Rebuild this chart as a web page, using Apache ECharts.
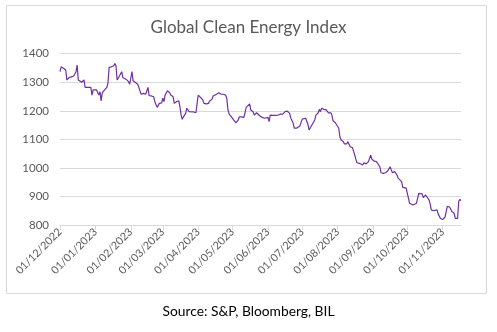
<!DOCTYPE html>
<html><head><meta charset="utf-8">
<script src="https://cdn.jsdelivr.net/npm/echarts@6/dist/echarts.min.js"></script>
<style>html,body{margin:0;padding:0;background:#fff}#c{width:497px;height:332px}</style>
</head><body><div id="c"></div>
<script>
const title = 'Global Clean Energy Index';
const sourceText = 'Source: S&P, Bloomberg, BIL';
const startDate = '2022-12-01';
const endDate = '2023-11-17';
const yTicks = [800, 900, 1000, 1100, 1200, 1300, 1400];

const dates = [
'2022-12-01','2022-12-02','2022-12-04','2022-12-06','2022-12-07','2022-12-09','2022-12-11','2022-12-13','2022-12-15','2022-12-16','2022-12-17','2022-12-20','2022-12-21','2022-12-22','2022-12-23','2022-12-26','2022-12-28','2022-12-29','2022-12-30',
'2023-01-02','2023-01-03','2023-01-04','2023-01-05','2023-01-06','2023-01-07','2023-01-09','2023-01-11','2023-01-12','2023-01-13','2023-01-15','2023-01-17','2023-01-18','2023-01-19','2023-01-20','2023-01-22','2023-01-24','2023-01-25','2023-01-28','2023-01-30','2023-01-31',
'2023-02-02','2023-02-03','2023-02-04','2023-02-07','2023-02-08','2023-02-09','2023-02-10','2023-02-12','2023-02-14','2023-02-15','2023-02-16','2023-02-17','2023-02-18','2023-02-19','2023-02-21','2023-02-22','2023-02-24','2023-02-26','2023-02-28',
'2023-03-01','2023-03-02','2023-03-03','2023-03-05','2023-03-07','2023-03-08','2023-03-10','2023-03-11','2023-03-13','2023-03-15','2023-03-16','2023-03-17','2023-03-18','2023-03-19','2023-03-21','2023-03-22','2023-03-24','2023-03-25','2023-03-28','2023-03-30','2023-03-31',
'2023-04-01','2023-04-03','2023-04-05','2023-04-06','2023-04-08','2023-04-10','2023-04-11','2023-04-13','2023-04-14','2023-04-15','2023-04-17','2023-04-18','2023-04-19','2023-04-20','2023-04-21','2023-04-23','2023-04-25','2023-04-26','2023-04-27','2023-04-28','2023-04-29','2023-04-30',
'2023-05-02','2023-05-03','2023-05-04','2023-05-06','2023-05-07','2023-05-09','2023-05-11','2023-05-12','2023-05-13','2023-05-14','2023-05-16','2023-05-17','2023-05-19','2023-05-20','2023-05-22','2023-05-23','2023-05-25','2023-05-27','2023-05-29','2023-05-30',
'2023-06-01','2023-06-02','2023-06-03','2023-06-04','2023-06-06','2023-06-08','2023-06-10','2023-06-12','2023-06-13','2023-06-14','2023-06-16','2023-06-17','2023-06-18','2023-06-20','2023-06-21','2023-06-23','2023-06-24','2023-06-26','2023-06-27','2023-06-29','2023-06-30',
'2023-07-01','2023-07-02','2023-07-04','2023-07-05','2023-07-06','2023-07-07','2023-07-09','2023-07-10','2023-07-12','2023-07-13','2023-07-15','2023-07-16','2023-07-17','2023-07-18','2023-07-19','2023-07-20','2023-07-22','2023-07-23','2023-07-24','2023-07-26','2023-07-27','2023-07-28','2023-07-30','2023-07-31',
'2023-08-02','2023-08-03','2023-08-04','2023-08-06','2023-08-07','2023-08-09','2023-08-10','2023-08-12','2023-08-13','2023-08-14','2023-08-16','2023-08-17','2023-08-18','2023-08-20','2023-08-21','2023-08-23','2023-08-24','2023-08-26','2023-08-27','2023-08-28','2023-08-29','2023-08-30','2023-08-31',
'2023-09-02','2023-09-04','2023-09-05','2023-09-07','2023-09-08','2023-09-10','2023-09-12','2023-09-13','2023-09-14','2023-09-15','2023-09-16','2023-09-17','2023-09-18','2023-09-20','2023-09-21','2023-09-22','2023-09-23','2023-09-24','2023-09-26','2023-09-27','2023-09-28','2023-09-30',
'2023-10-01','2023-10-02','2023-10-03','2023-10-04','2023-10-06','2023-10-07','2023-10-09','2023-10-10','2023-10-11','2023-10-12','2023-10-14','2023-10-15','2023-10-16','2023-10-17','2023-10-18','2023-10-20','2023-10-21','2023-10-22','2023-10-23','2023-10-24','2023-10-25','2023-10-27','2023-10-28','2023-10-29','2023-10-30','2023-10-31',
'2023-11-01','2023-11-02','2023-11-03','2023-11-04','2023-11-05','2023-11-07','2023-11-08','2023-11-09','2023-11-11','2023-11-12','2023-11-14','2023-11-15','2023-11-16','2023-11-17'
];
const values = [
1337,1354,1349,1343,1308,1316,1319,1322,1337,1360,1308,1300,1296,1308,1282,1282,1282,1255,1273,
1273,1270,1255,1267,1235,1263,1273,1282,1298,1352,1354,1358,1366,1357,1308,1322,1337,1317,1310,1302,1293,
1337,1305,1300,1293,1282,1270,1258,1261,1258,1263,1282,1253,1255,1252,1249,1232,1212,1226,1228,
1244,1232,1255,1270,1263,1255,1249,1226,1232,1235,1214,1185,1170,1179,1191,1209,1197,1197,1196,1193,1226,
1255,1247,1238,1226,1224,1226,1234,1240,1252,1247,1258,1263,1263,1259,1258,1258,1255,1244,1203,1189,1193,1179,
1168,1165,1158,1168,1179,1179,1177,1179,1212,1217,1224,1203,1197,1185,1193,1191,1182,1177,1174,1170,
1177,1162,1185,1186,1184,1184,1185,1189,1193,1188,1197,1203,1199,1191,1174,1158,1139,1139,1141,1147,1142,
1171,1176,1174,1168,1153,1133,1147,1154,1168,1185,1193,1205,1197,1209,1212,1205,1203,1197,1193,1193,1185,1165,1158,1162,
1139,1109,1098,1092,1084,1084,1092,1074,1072,1071,1045,1030,1018,1016,1014,1010,1018,1014,1018,1022,1028,1045,1030,
1024,1022,1018,1004,983,981,983,987,990,983,1004,993,983,987,989,975,964,958,952,932,932,929,
911,894,876,874,870,876,876,876,911,917,909,896,897,905,908,888,874,853,847,850,847,853,839,843,823,823,
819,817,828,846,865,863,860,847,841,823,823,882,890,885
];

// calendar-day category axis
function pad(n){return n<10?'0'+n:''+n;}
const days = [];
(function(){
  const d = new Date(startDate + 'T00:00:00Z');
  const e = new Date(endDate + 'T00:00:00Z');
  while (d <= e) {
    days.push(d.getUTCFullYear()+'-'+pad(d.getUTCMonth()+1)+'-'+pad(d.getUTCDate()));
    d.setUTCDate(d.getUTCDate()+1);
  }
})();
const isMonthStart = (i, v) => v.slice(8) === '01';
const fmt = v => v.slice(8,10)+'/'+v.slice(5,7)+'/'+v.slice(0,4);

const chart = echarts.init(document.getElementById('c'), null, {renderer:'canvas'});
const FONT = 'Lato, "Open Sans", sans-serif';
chart.setOption({
  animation: false,
  backgroundColor: '#fff',
  title: {
    text: title, left: 'center', top: 14,
    textStyle: {fontFamily: FONT, fontSize: 17, fontWeight: 'normal', color: '#595959'}
  },
  grid: {left: 60, right: 36, top: 53.7, bottom: 107},
  xAxis: {
    type: 'category', data: days, boundaryGap: false,
    axisLine: {lineStyle: {color: '#d9d9d9'}},
    axisTick: {show: true, interval: isMonthStart, length: 5, lineStyle: {color: '#d9d9d9'}},
    axisLabel: {interval: isMonthStart, rotate: 45, formatter: fmt, margin: 5,
      fontFamily: FONT, fontSize: 10.8, color: '#595959'},
    splitLine: {show: false}
  },
  yAxis: {
    type: 'value', min: yTicks[0], max: yTicks[yTicks.length-1], interval: 100,
    axisLine: {show: false}, axisTick: {show: false},
    axisLabel: {margin: 11, fontFamily: FONT, fontSize: 11.5, color: '#595959', formatter: v => String(v)},
    splitLine: {lineStyle: {color: '#d9d9d9', width: 1}}
  },
  series: [{
    type: 'line', showSymbol: false, symbol: 'none',
    data: dates.map((d, i) => [d, values[i]]),
    lineStyle: {color: '#7030a0', width: 1.2},
    itemStyle: {color: '#7030a0'}
  }],
  graphic: [
    {type: 'rect', shape: {x: 6.5, y: 5.5, width: 480, height: 288}, z: -1,
      style: {fill: 'none', stroke: '#d9d9d9', lineWidth: 1}},
    {type: 'text', left: 'center', top: 305,
      style: {text: sourceText, font: '13.8px ' + FONT, fill: '#000'}}
  ]
});
</script></body></html>
